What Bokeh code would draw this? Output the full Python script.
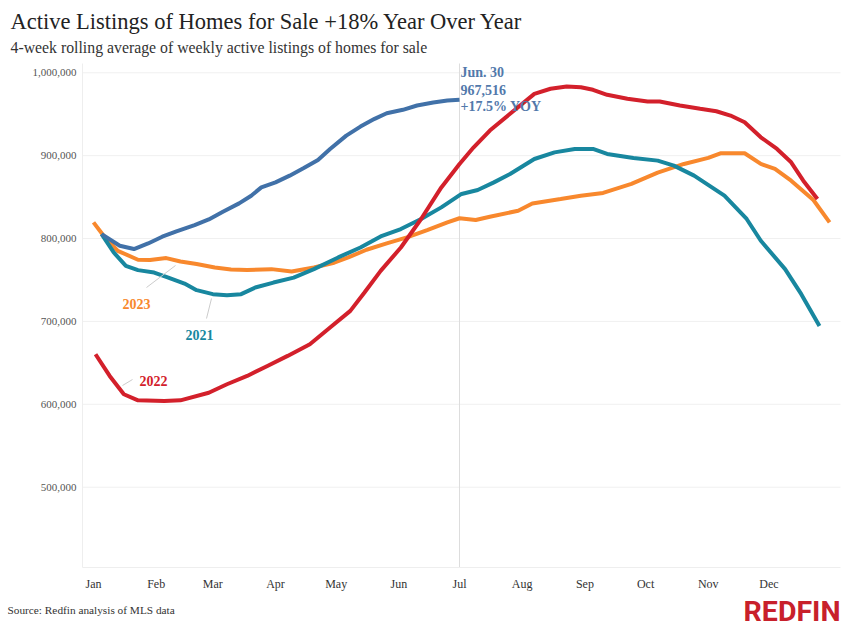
from bokeh.plotting import figure
from bokeh.models import Range1d, FixedTicker, NumeralTickFormatter, Label
from bokeh.embed import file_html
from bokeh.resources import INLINE

# ---------------- data (day of year, weekly active listings) ----------------
days_2024 = [4, 13, 20, 27, 34, 41, 50, 57, 64, 72, 78, 83, 90, 97, 104, 111, 117,
             125, 132, 139, 145, 153, 160, 168, 175, 181]
vals_2024 = [805400, 791300, 787300, 794100, 802200, 808600, 816300, 823100, 832400,
             842400, 851700, 861700, 867800, 875900, 885100, 894900, 908100, 924200,
             935100, 944400, 951200, 955300, 960500, 964100, 966500, 967516]

days_2023 = [0, 5, 12, 22, 28, 36, 43, 51, 60, 68, 76, 88, 98, 109, 119, 126, 135, 145,
             155, 165, 175, 181, 189, 196, 210, 217, 231, 241, 252, 266, 279, 292, 304,
             310, 322, 330, 337, 345, 356, 364]
vals_2023 = [819500, 803400, 785200, 774400, 774000, 776400, 772300, 769200, 765100,
             762700, 761900, 763100, 760200, 765100, 770800, 777200, 786500, 794100,
             801400, 810300, 819500, 824500, 822400, 826300, 833600, 842400, 847700,
             851700, 855000, 865900, 879500, 890000, 897300, 902900, 902900, 890000,
             884000, 869800, 846500, 819500]

days_2021 = [4, 10, 16, 22, 30, 37, 45, 51, 59, 66, 73, 80, 89, 99, 109, 121, 132, 142,
             152, 162, 172, 182, 190, 198, 206, 218, 228, 238, 247, 254, 267, 279, 287,
             297, 312, 323, 330, 342, 350, 359]
vals_2021 = [805400, 783200, 767100, 761900, 759000, 752900, 745700, 737700, 732900,
             731700, 732900, 740900, 746900, 752900, 763100, 777200, 789200, 802500,
             811500, 823600, 837600, 853800, 858600, 867800, 877900, 896000, 904000,
             908100, 908100, 902100, 897300, 894000, 888000, 875900, 851700, 823600,
             797300, 763100, 732900, 694600]

days_2022 = [1, 8, 15, 22, 35, 43, 57, 66, 76, 86, 96, 107, 117, 127, 134, 142, 152, 162,
             172, 181, 188, 196, 206, 218, 226, 234, 241, 247, 254, 264, 274, 280, 290,
             300, 308, 315, 322, 330, 338, 345, 351, 358]
vals_2022 = [660400, 634200, 612100, 604800, 604000, 604800, 614000, 624200, 634200,
             646300, 658400, 672500, 692600, 712700, 734900, 761000, 789200, 823600,
             861700, 890000, 910100, 930300, 950500, 974600, 980700, 983400, 982600,
             979500, 973400, 968600, 965300, 965300, 960500, 956500, 953600, 948400,
             940300, 922200, 908100, 892000, 869800, 847700]

month_days = [0, 31, 59, 90, 120, 151, 181, 212, 243, 273, 304, 334]
month_labels = ["Jan", "Feb", "Mar", "Apr", "May", "Jun", "Jul", "Aug", "Sep", "Oct", "Nov", "Dec"]
y_ticks = [500000, 600000, 700000, 800000, 900000, 1000000]

latest_day = 181
latest_text = ["Jun. 30", "967,516", "+17.5% YOY"]

title_text = "Active Listings of Homes for Sale +18% Year Over Year"
subtitle_text = "4-week rolling average of weekly active listings of homes for sale"
source_text = "Source: Redfin analysis of MLS data"
logo_text = "REDFIN"

# ---------------- styling / geometry ----------------
C2024 = "#4171a8"
C2023 = "#f8882d"
C2021 = "#18879f"
C2022 = "#d3202b"
SERIF = "Liberation Serif"

W, H = 848, 630
# plotting area in page pixels and its data extent
PX_L, PX_R, PX_T, PX_B = 82, 840, 63, 567
CX0, CX1 = -5.44, 369.4
CY0, CY1 = 403100, 1011200

sx = (PX_R - PX_L) / (CX1 - CX0)
sy = (PX_B - PX_T) / (CY1 - CY0)
XA, XB = CX0 - PX_L / sx, CX0 + (W - PX_L) / sx
YB, YA = CY1 + PX_T / sy, CY1 - (H - PX_T) / sy


def dx(px):
    return CX0 + (px - PX_L) / sx


def dy(py):
    return CY1 - (py - PX_T) / sy


p = figure(width=W, height=H, output_backend="svg", toolbar_location=None,
           x_range=Range1d(XA, XB), y_range=Range1d(YA, YB), min_border=0,
           background_fill_color="white", border_fill_color="white")
p.outline_line_color = None
p.xgrid.visible = False
p.ygrid.visible = False

# axes pinned to the plotting area edges
p.xaxis.fixed_location = CY0
p.xaxis.bounds = (CX0, CX1)
p.xaxis.ticker = FixedTicker(ticks=month_days)
p.xaxis.major_label_overrides = {d: m for d, m in zip(month_days, month_labels)}
p.xaxis.major_label_text_font = SERIF
p.xaxis.major_label_text_font_size = "12px"
p.xaxis.major_label_text_color = "#333333"
p.xaxis.major_tick_line_color = None
p.xaxis.minor_tick_line_color = None
p.xaxis.major_tick_out = 0
p.xaxis.major_tick_in = 0
p.xaxis.axis_line_color = "#eeeeee"
p.xaxis.major_label_standoff = 9

p.yaxis.fixed_location = CX0
p.yaxis.bounds = (CY0, CY1)
p.yaxis.ticker = FixedTicker(ticks=y_ticks)
p.yaxis.formatter = NumeralTickFormatter(format="0,0")
p.yaxis.major_label_text_font = SERIF
p.yaxis.major_label_text_font_size = "11px"
p.yaxis.major_label_text_color = "#555555"
p.yaxis.major_tick_line_color = None
p.yaxis.minor_tick_line_color = None
p.yaxis.major_tick_out = 0
p.yaxis.major_tick_in = 0
p.yaxis.axis_line_color = "#eeeeee"
p.yaxis.major_label_standoff = 6

# horizontal gridlines across the plotting area
p.segment(x0=[CX0] * len(y_ticks), y0=y_ticks, x1=[CX1] * len(y_ticks), y1=y_ticks,
          line_color="#f0f0f0", line_width=1)
# vertical marker at latest date
p.segment(x0=[latest_day], y0=[CY0], x1=[latest_day], y1=[CY1],
          line_color="#dddddd", line_width=1)

LW = 4
p.line(days_2023, vals_2023, line_color=C2023, line_width=LW)
p.line(days_2021, vals_2021, line_color=C2021, line_width=LW)
p.line(days_2022, vals_2022, line_color=C2022, line_width=LW)
p.line(days_2024, vals_2024, line_color=C2024, line_width=LW)

# leader lines and series labels
lead_x0 = [dx(146), dx(206), dx(122)]
lead_y0 = [dy(287), dy(318), dy(385)]
lead_x1 = [dx(175), dx(211), dx(132)]
lead_y1 = [dy(265), dy(298), dy(379)]
p.segment(lead_x0, lead_y0, lead_x1, lead_y1, line_color="#cccccc", line_width=1)

for txt, px, py, col in [("2023", 136, 303, C2023), ("2021", 199, 334, C2021),
                         ("2022", 153, 380, C2022)]:
    p.add_layout(Label(x=dx(px), y=dy(py), text=txt, text_align="center",
                       text_baseline="middle", text_font=SERIF, text_font_style="bold",
                       text_font_size="14px", text_color=col))

for i, t in enumerate(latest_text):
    p.add_layout(Label(x=dx(460), y=dy(72 + 17 * i), text=t, text_align="left",
                       text_baseline="middle", text_font=SERIF,
                       text_font_style="bold", text_font_size="14px",
                       text_color="#5279ab"))

# title, subtitle
p.add_layout(Label(x=dx(10), y=dy(20.5), text=title_text, text_font=SERIF,
                   text_font_size="22.5px", text_color="#222222", text_baseline="middle"))
p.add_layout(Label(x=dx(10), y=dy(46.5), text=subtitle_text, text_font=SERIF,
                   text_font_size="15.8px", text_color="#333333", text_baseline="middle"))

# footer
p.add_layout(Label(x=dx(7), y=dy(609), text=source_text, text_font=SERIF,
                   text_font_size="11.3px", text_color="#333333", text_baseline="middle"))
p.add_layout(Label(x=dx(840), y=dy(611), text=logo_text, text_align="right",
                   text_font="Roboto", text_font_style="bold", text_font_size="28.5px",
                   text_color="#c8202b", text_baseline="middle"))

open("out.html", "w").write(file_html(p, INLINE))
